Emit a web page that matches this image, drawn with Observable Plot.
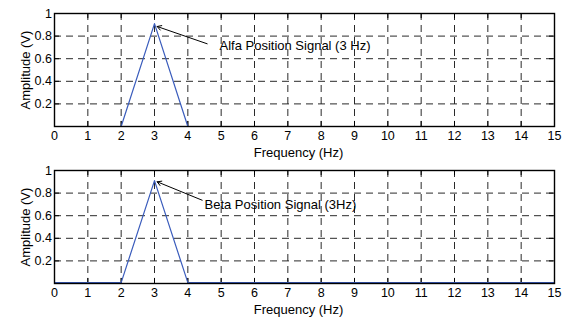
<!DOCTYPE html>
<html>
<head>
<meta charset="utf-8">
<script src="https://cdn.jsdelivr.net/npm/d3@7"></script>
<script src="https://cdn.jsdelivr.net/npm/@observablehq/plot@0.6"></script>
<style>
  html, body { margin: 0; padding: 0; background: #fff; }
  #chart svg { display: block; }
</style>
</head>
<body>
<div id="chart"></div>
<script>
// Data
const freq = [0, 1, 2, 3, 4, 5, 6, 7, 8, 9, 10, 11, 12, 13, 14, 15];
const alfaAmp = [0, 0, 0, 0.91, 0, 0, 0, 0, 0, 0, 0, 0, 0, 0, 0, 0];
const betaAmp = [0.008, 0.008, 0.008, 0.91, 0.008, 0.008, 0.008, 0.008, 0.008, 0.008, 0.008, 0.008, 0.008, 0.008, 0.008, 0.008];
const xTicks = [0, 1, 2, 3, 4, 5, 6, 7, 8, 9, 10, 11, 12, 13, 14, 15];
const yTicks = [0.2, 0.4, 0.6, 0.8, 1];
const xGrid = [1, 2, 3, 4, 5, 6, 7, 8, 9, 10, 11, 12, 13, 14];
const yGrid = [0.2, 0.4, 0.6, 0.8];
const annotations = [
  {text: "Alfa Position Signal (3 Hz)", tx: 4.95, ty: 0.717, x1: 4.58, y1: 0.732, x2: 3.08, y2: 0.885},
  {text: "Beta Position Signal (3Hz)", tx: 4.5, ty: 0.693, x1: 4.43, y1: 0.737, x2: 3.08, y2: 0.90}
];
const xLabel = "Frequency (Hz)";
const yLabel = "Amplitude (V)";

const FONT = "Liberation Sans, Arial, sans-serif";
const lineColor = "#3a5cbc";

function panel(values, ann, opts) {
  const data = freq.map((f, i) => ({f, a: values[i]}));
  const tickLenX = 0.045;  // inward tick length in y units
  const tickLenY = 0.15;   // inward tick length in x units
  return Plot.plot({
    width: 563,
    height: opts.height,
    marginLeft: 54,
    marginRight: 9,
    marginTop: opts.marginTop,
    marginBottom: opts.marginBottom,
    style: {fontFamily: FONT, fontSize: "12.5px", color: "#000", background: "#fff"},
    x: {domain: [0, 15]},
    y: {domain: [0, 1]},
    marks: [
      Plot.ruleX(xGrid, {stroke: "#2a2a2a", strokeWidth: 1, strokeDasharray: "7,5"}),
      Plot.ruleY(yGrid, {stroke: "#2a2a2a", strokeWidth: 1, strokeDasharray: "7,5"}),
      // inward ticks, MATLAB style
      Plot.ruleX(xTicks, {y1: 0, y2: tickLenX, stroke: "#000"}),
      Plot.ruleX(xTicks, {y1: 1 - tickLenX, y2: 1, stroke: "#000"}),
      Plot.ruleY(yTicks, {x1: 0, x2: tickLenY, stroke: "#000"}),
      Plot.ruleY(yTicks, {x1: 15 - tickLenY, x2: 15, stroke: "#000"}),
      Plot.line(data, {x: "f", y: "a", stroke: lineColor, strokeWidth: 1.2}),
      Plot.frame({stroke: "#000", strokeWidth: 1.4}),
      Plot.axisX(xTicks, {tickSize: 0, tickPadding: 4.5, fontSize: 12.5, label: null, tickFormat: d => String(d)}),
      Plot.axisY(yTicks, {tickSize: 0, tickPadding: 2.5, fontSize: 12.5, label: null, tickFormat: d => String(d)}),
      Plot.text([xLabel], {frameAnchor: "bottom", dy: 26, dx: -6, lineAnchor: "middle", fontSize: 13, fill: "#000"}),
      Plot.text([yLabel], {frameAnchor: "left", dx: -29, rotate: -90, lineAnchor: "middle", textAnchor: "middle", fontSize: 13, fill: "#000"}),
      Plot.arrow([ann], {x1: "x1", y1: "y1", x2: "x2", y2: "y2", stroke: "#000", strokeWidth: 1, headLength: 7}),
      Plot.text([ann], {x: "tx", y: "ty", text: "text", textAnchor: "start", lineAnchor: "middle", fontSize: 13, fill: "#000"})
    ]
  });
}

const root = document.getElementById("chart");
root.appendChild(panel(alfaAmp, annotations[0], {height: 160, marginTop: 13, marginBottom: 34}));
root.appendChild(panel(betaAmp, annotations[1], {height: 163, marginTop: 10, marginBottom: 40}));
</script>
</body>
</html>
